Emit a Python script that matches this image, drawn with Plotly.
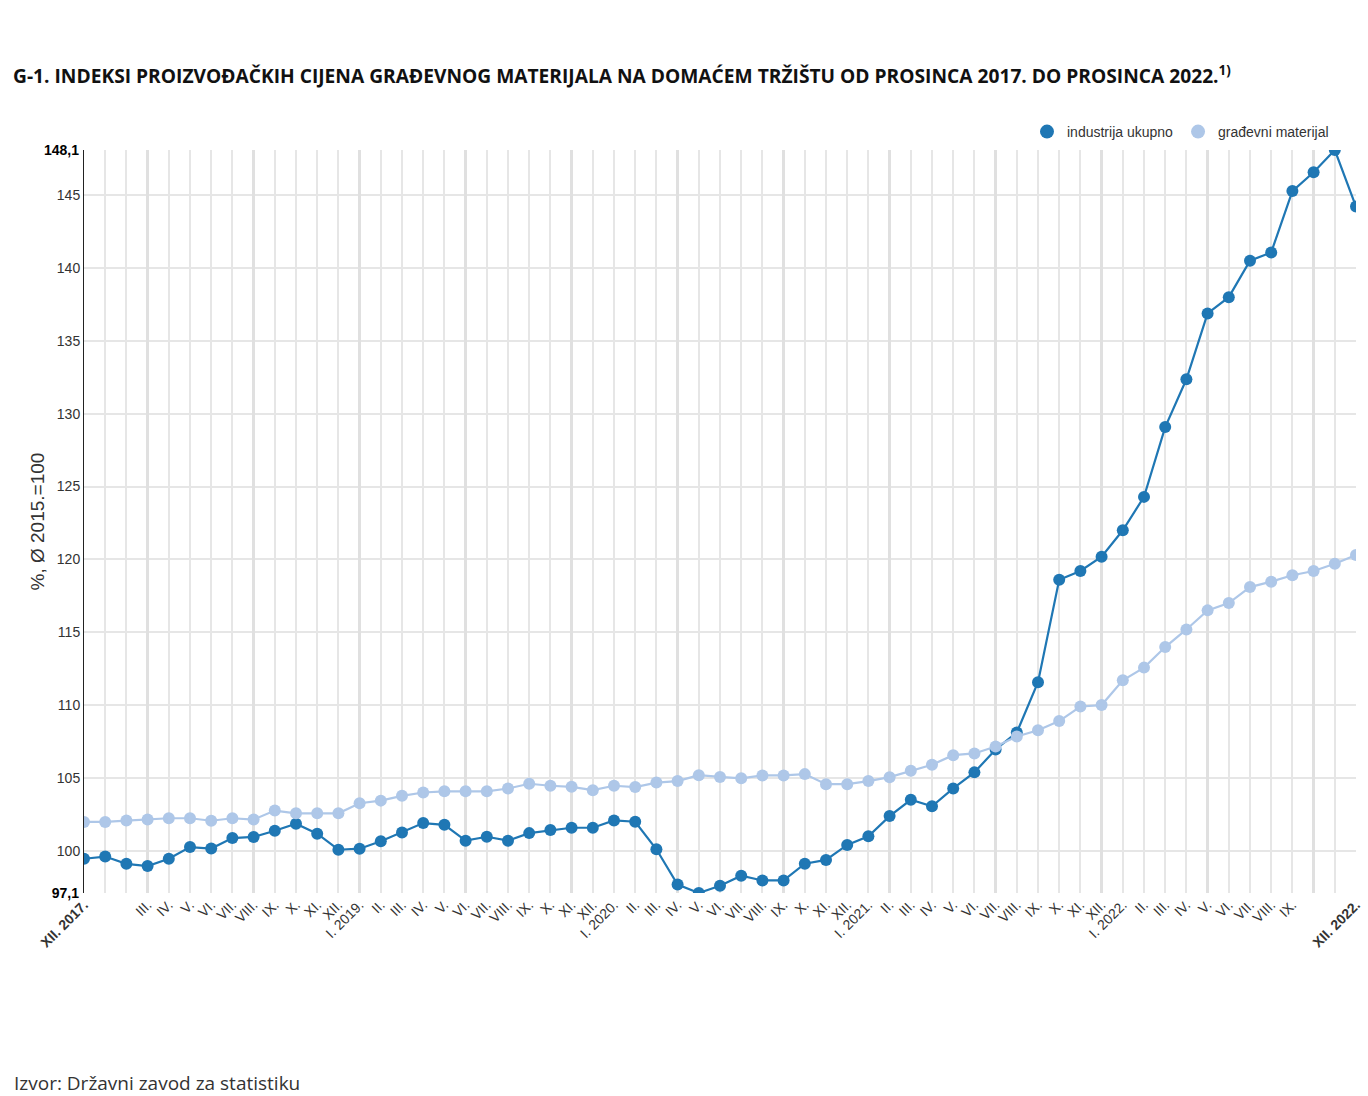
import plotly.graph_objects as go

# ---------------- data ----------------
month_labels = [
    "XII. 2017.", "I. 2018.", "II.", "III.", "IV.", "V.", "VI.", "VII.", "VIII.", "IX.", "X.", "XI.", "XII.",
    "I. 2019.", "II.", "III.", "IV.", "V.", "VI.", "VII.", "VIII.", "IX.", "X.", "XI.", "XII.",
    "I. 2020.", "II.", "III.", "IV.", "V.", "VI.", "VII.", "VIII.", "IX.", "X.", "XI.", "XII.",
    "I. 2021.", "II.", "III.", "IV.", "V.", "VI.", "VII.", "VIII.", "IX.", "X.", "XI.", "XII.",
    "I. 2022.", "II.", "III.", "IV.", "V.", "VI.", "VII.", "VIII.", "IX.", "X.", "XI.", "XII. 2022.",
]
hidden_label_idx = [1, 2, 58, 59]
bold_label_idx = [0, 60]

industrija_ukupno = [
    99.45, 99.6, 99.1, 98.95, 99.45, 100.25, 100.15, 100.87, 100.95, 101.37,
    101.85, 101.17, 100.07, 100.14, 100.65, 101.26, 101.9, 101.78, 100.69, 100.96,
    100.69, 101.21, 101.42, 101.58, 101.58, 102.08, 101.99, 100.1, 97.68, 97.1,
    97.6, 98.29, 97.96, 97.96, 99.11, 99.37, 100.4, 100.99, 102.38, 103.5,
    103.05, 104.28, 105.38, 106.95, 108.12, 111.57, 118.6, 119.2, 120.18, 122.0,
    124.29, 129.08, 132.36, 136.88, 138.0, 140.5, 141.07, 145.28, 146.57, 148.1,
    144.22,
]
gradjevni_materijal = [
    101.98, 101.98, 102.07, 102.14, 102.23, 102.23, 102.06, 102.23, 102.14, 102.76,
    102.57, 102.57, 102.57, 103.26, 103.44, 103.77, 104.0, 104.08, 104.08, 104.08,
    104.27, 104.6, 104.46, 104.39, 104.16, 104.46, 104.37, 104.68, 104.78, 105.19,
    105.07, 104.97, 105.17, 105.17, 105.26, 104.57, 104.57, 104.78, 105.05, 105.49,
    105.9, 106.56, 106.68, 107.15, 107.84, 108.27, 108.9, 109.9, 110.0, 111.7,
    112.57, 113.98, 115.19, 116.5, 117.0, 118.1, 118.47, 118.91, 119.2, 119.7,
    120.3,
]
y_min, y_max = 97.1, 148.1
y_ticks = [100, 105, 110, 115, 120, 125, 130, 135, 140, 145]

series_names = ["industrija ukupno", "građevni materijal"]
series_colors = ["#1f77b4", "#aec7e8"]

# ---------------- figure ----------------
x_idx = list(range(len(month_labels)))
tick_text = []
for i, lab in enumerate(month_labels):
    if i in hidden_label_idx:
        tick_text.append("")
    elif i in bold_label_idx:
        tick_text.append("<b>" + lab + "</b>")
    else:
        tick_text.append(lab)

fig = go.Figure()

for name, vals, col in [(series_names[0], industrija_ukupno, series_colors[0]),
                        (series_names[1], gradjevni_materijal, series_colors[1])]:
    fig.add_trace(go.Scatter(
        x=x_idx, y=vals, mode="lines+markers", name=name, showlegend=False,
        line=dict(color=col, width=2.2), marker=dict(size=12, color=col),
    ))

# legend-only entries (circle symbols)
for name, col in zip(series_names, series_colors):
    fig.add_trace(go.Scatter(
        x=[None], y=[None], mode="markers", name=name,
        marker=dict(size=14, color=col), showlegend=True, hoverinfo="skip",
    ))

# helper trace for overlay axes (bold extreme labels and major grid)
fig.add_trace(go.Scatter(x=[None], y=[None], xaxis="x2", yaxis="y2",
                         showlegend=False, hoverinfo="skip", mode="markers"))

tick_font = dict(family="Liberation Sans, Arial, sans-serif", size=14, color="#333")

fig.update_layout(
    width=1368, height=1096,
    paper_bgcolor="white", plot_bgcolor="white",
    margin=dict(l=84, r=12, t=150, b=203, autoexpand=False),
    title=dict(
        text="<b>G-1. INDEKSI PROIZVOĐAČKIH CIJENA GRAĐEVNOG MATERIJALA NA DOMAĆEM TRŽIŠTU OD PROSINCA 2017. DO PROSINCA 2022.<sup>1)</sup></b>",
        font=dict(family="Open Sans", size=19.2, color="#111"),
        xref="container", x=13 / 1368, xanchor="left",
        yref="container", y=1 - 76 / 1096, yanchor="middle",
    ),
    xaxis=dict(
        range=[0, 60], tickmode="array", tickvals=x_idx, ticktext=tick_text,
        tickangle=-45, tickfont=tick_font, showgrid=True, gridcolor="#e6e6e6",
        gridwidth=1.5, showline=False, zeroline=False, ticks="",
    ),
    xaxis2=dict(
        range=[0, 60], overlaying="x", matches="x", tickmode="linear", tick0=3, dtick=5,
        showticklabels=False, showgrid=True, gridcolor="#e0e0e0", gridwidth=2.5,
        showline=False, zeroline=False, ticks="",
    ),
    yaxis=dict(
        range=[y_min, y_max], tickmode="array", tickvals=y_ticks,
        ticktext=[str(v) for v in y_ticks], tickfont=tick_font,
        showgrid=True, gridcolor="#e6e6e6", gridwidth=1.5,
        showline=True, linecolor="#222", linewidth=1, zeroline=False, ticks="",
    ),
    yaxis2=dict(
        range=[y_min, y_max], overlaying="y", matches="y", side="left",
        tickmode="array", tickvals=[y_min, y_max],
        ticktext=["<b>" + f"{y_min:.1f}".replace(".", ",") + "</b>",
                  "<b>" + f"{y_max:.1f}".replace(".", ",") + "</b>"],
        tickfont=dict(family="Liberation Sans, Arial, sans-serif", size=14, color="#000"),
        ticklabelstandoff=4,
        showgrid=False, showline=False, zeroline=False, ticks="",
    ),
    legend=dict(
        orientation="h", x=1334 / 1368, xref="container", xanchor="right",
        y=1 - 132 / 1096, yref="container", yanchor="middle",
        font=dict(family="Liberation Sans, Arial, sans-serif", size=14, color="#333"),
        itemwidth=30, bgcolor="rgba(0,0,0,0)",
    ),
    showlegend=True,
    annotations=[
        dict(text="%, Ø 2015.=100", textangle=-90, xref="paper", yref="paper",
             x=(37 - 84) / 1272, y=0.5, xanchor="center", yanchor="middle", showarrow=False,
             font=dict(family="Liberation Sans, Arial, sans-serif", size=19, color="#333")),
        dict(text="Izvor: Državni zavod za statistiku", xref="paper", yref="paper",
             x=(13 - 84) / 1272, y=(893 - 1083) / 743, xanchor="left", yanchor="middle",
             showarrow=False, borderpad=0, font=dict(family="Open Sans", size=19, color="#333")),
    ],
)

fig.write_html(
    "out.html",
    config={"displayModeBar": False},
    post_script="document.body.style.margin='0';document.body.style.overflow='hidden';",
)
